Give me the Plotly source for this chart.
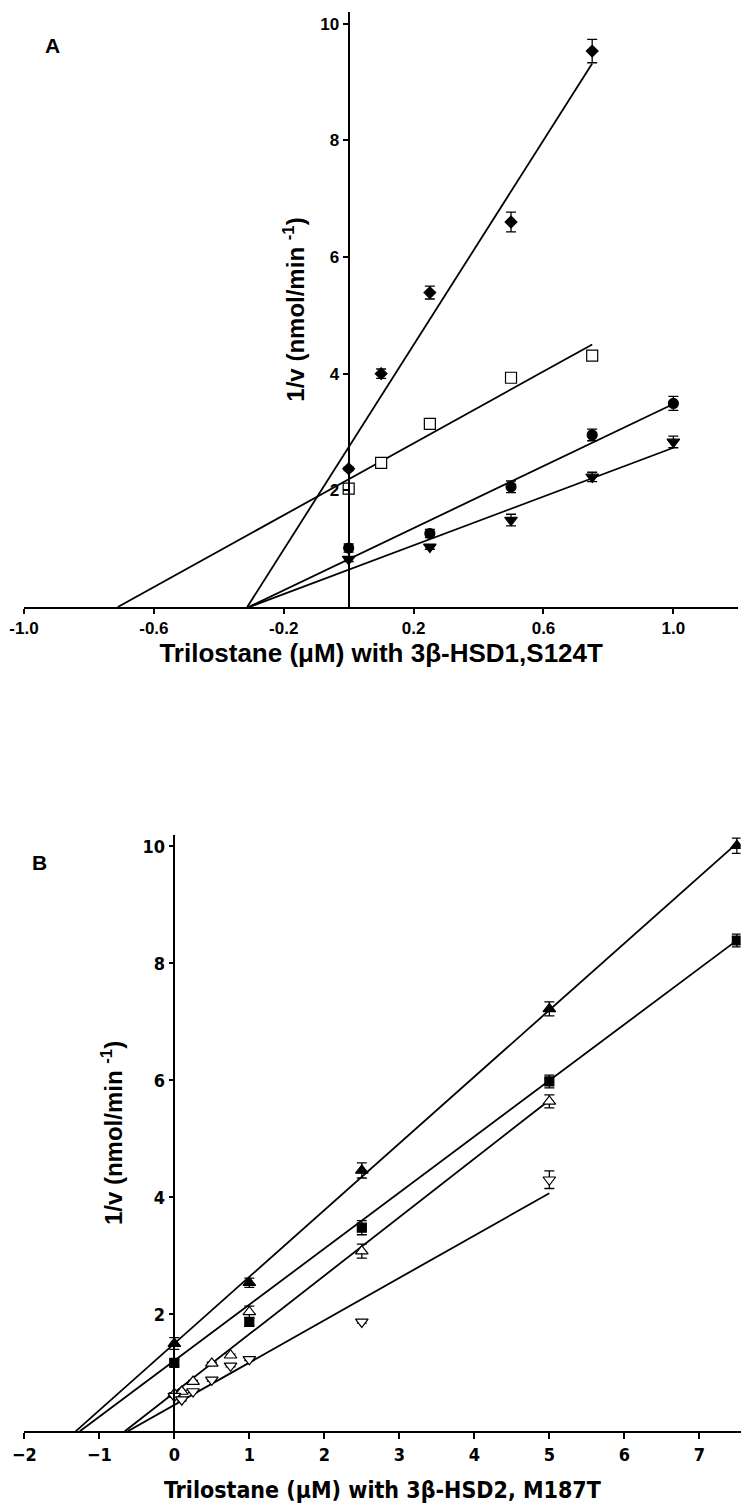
import numpy as np
import plotly.graph_objects as go

# ---------------- Panel A data (3β-HSD1, S124T) ----------------
a_x_diamond = [0, 0.1, 0.25, 0.5, 0.75]
a_y_diamond = [2.37, 4.00, 5.39, 6.60, 9.53]
a_e_diamond = [0.03, 0.08, 0.11, 0.17, 0.20]

a_x_square = [0, 0.1, 0.25, 0.5, 0.75]
a_y_square = [2.03, 2.47, 3.14, 3.93, 4.31]
a_e_square = [0.03, 0.03, 0.03, 0.08, 0.03]

a_x_circle = [0, 0.25, 0.5, 0.75, 1.0]
a_y_circle = [1.01, 1.26, 2.06, 2.95, 3.49]
a_e_circle = [0.07, 0.07, 0.10, 0.10, 0.12]

a_x_tridown = [0, 0.25, 0.5, 0.75, 1.0]
a_y_tridown = [0.82, 1.03, 1.49, 2.23, 2.83]
a_e_tridown = [0.04, 0.04, 0.10, 0.08, 0.10]

# fitted lines (slope, intercept)
a_slopes = [8.77, 3.08, 2.66, 2.09]
a_intercepts = [2.74, 2.19, 0.82, 0.64]

a_xticks = [-1.0, -0.6, -0.2, 0.2, 0.6, 1.0]
a_yticks = [2, 4, 6, 8, 10]

# ---------------- Panel B data (3β-HSD2, M187T) ----------------
b_x_tri = [0, 1, 2.5, 5, 7.5]
b_y_tri = [1.50, 2.54, 4.46, 7.22, 10.01]
b_e_tri = [0.10, 0.08, 0.13, 0.12, 0.13]

b_x_sq = [0, 1, 2.5, 5, 7.5]
b_y_sq = [1.17, 1.87, 3.48, 5.98, 8.39]
b_e_sq = [0.05, 0.07, 0.12, 0.11, 0.11]

b_x_otri = [0, 0.1, 0.25, 0.5, 0.75, 1, 2.5, 5]
b_y_otri = [0.64, 0.68, 0.85, 1.16, 1.30, 2.04, 3.08, 5.64]
b_e_otri = [0.02, 0.02, 0.02, 0.02, 0.02, 0.10, 0.12, 0.11]

b_x_otrid = [0, 0.1, 0.25, 0.5, 0.75, 1, 2.5, 5]
b_y_otrid = [0.60, 0.54, 0.68, 0.88, 1.12, 1.23, 1.87, 4.30]
b_e_otrid = [0.02, 0.02, 0.02, 0.02, 0.02, 0.02, 0.02, 0.15]

b_slopes = [1.14, 0.958, 1.00, 0.724]
b_intercepts = [1.50, 1.207, 0.66, 0.45]

b_xticks = [-2, -1, 0, 1, 2, 3, 4, 5, 6, 7]
b_yticks = [2, 4, 6, 8, 10]

# ---------------- layout geometry (page pixels) ----------------
OX, OY = 8, 8            # default page body margin
W, H = 742, 1500         # figure size that fits the 750x1508 window
A_xr = [-1.0, 1.2]
B_xr = [-2.0, 7.55]
yr = [0, 10.2]


def fx(px):
    return (px - OX) / W


def fy(py):
    return 1 - (py - OY) / H


A_xdom = [fx(24), fx(738.3)]
A_ydom = [fy(607), fy(12)]
B_xdom = [fx(24.3), fx(740.6)]
B_ydom = [fy(1431.3), fy(834.6)]


def zero_pos(dom, rng):
    return dom[0] + (dom[1] - dom[0]) * (0 - rng[0]) / (rng[1] - rng[0])


FONT_A = "Liberation Sans, Arial, sans-serif"
FONT_B = "DejaVu Sans Condensed, Liberation Sans Narrow, Liberation Sans, Arial, sans-serif"

fig = go.Figure()


def add_line(slope, icpt, xmax, xa, ya, width):
    x0 = -icpt / slope
    xs = np.array([x0, xmax])
    fig.add_trace(go.Scatter(x=xs, y=slope * xs + icpt, mode="lines",
                             line=dict(color="black", width=width),
                             xaxis=xa, yaxis=ya, showlegend=False,
                             hoverinfo="skip"))


def add_pts(x, y, e, symbol, size, xa, ya, fill="black"):
    fig.add_trace(go.Scatter(
        x=x, y=y, mode="markers", xaxis=xa, yaxis=ya, showlegend=False,
        marker=dict(symbol=symbol, size=size, color=fill,
                    line=dict(color="black", width=1.2)),
        error_y=dict(type="data", array=e, color="black", thickness=1.3,
                     width=5)))


# Panel A
a_sets = [(a_x_diamond, a_y_diamond, a_e_diamond, "diamond", 9, "black"),
          (a_x_square, a_y_square, a_e_square, "square", 11, "white"),
          (a_x_circle, a_y_circle, a_e_circle, "circle", 10, "black"),
          (a_x_tridown, a_y_tridown, a_e_tridown, "triangle-down", 11, "black")]
for (xs, ys, es, sym, sz, fc), s, b in zip(a_sets, a_slopes, a_intercepts):
    add_line(s, b, max(xs), "x", "y", 1.8)
for xs, ys, es, sym, sz, fc in a_sets:
    add_pts(xs, ys, es, sym, sz, "x", "y", fc)

# Panel B
b_sets = [(b_x_tri, b_y_tri, b_e_tri, "triangle-up", 11, "black"),
          (b_x_sq, b_y_sq, b_e_sq, "square", 9, "black"),
          (b_x_otri, b_y_otri, b_e_otri, "triangle-up", 11, "white"),
          (b_x_otrid, b_y_otrid, b_e_otrid, "triangle-down", 11, "white")]
for (xs, ys, es, sym, sz, fc), s, b in zip(b_sets, b_slopes, b_intercepts):
    add_line(s, b, max(xs), "x2", "y2", 1.8)
for xs, ys, es, sym, sz, fc in b_sets:
    add_pts(xs, ys, es, sym, sz, "x2", "y2", fc)

common_x = dict(showgrid=False, zeroline=False, showline=True, automargin=False,
                linecolor="black", ticks="outside", tickcolor="black",
                tickwidth=2, ticklen=5)
common_y = dict(showgrid=False, zeroline=False, showline=True, automargin=False,
                linecolor="black", ticks="outside", tickcolor="black",
                tickwidth=2, ticklen=5)

fig.update_layout(
    width=W, height=H,
    margin=dict(l=0, r=0, t=0, b=0, pad=0, autoexpand=False),
    paper_bgcolor="white", plot_bgcolor="white",
    showlegend=False,
    xaxis=dict(common_x, domain=A_xdom, range=A_xr, anchor="y",
               linewidth=2,
               tickvals=a_xticks, ticktext=["%.1f" % v for v in a_xticks],
               tickfont=dict(family=FONT_A, size=17, color="black", weight="bold"),
               title=dict(text="Trilostane (μM) with 3β-HSD1,S124T",
                          font=dict(family=FONT_A, size=26, color="black", weight="bold"),
                          standoff=0)),
    yaxis=dict(common_y, domain=A_ydom, range=yr, anchor="free",
               position=zero_pos(A_xdom, A_xr), linewidth=2,
               tickvals=a_yticks,
               tickfont=dict(family=FONT_A, size=17, color="black", weight="bold"),
               title=dict(text="1/v (nmol/min <sup>-1</sup>)",
                          font=dict(family=FONT_A, size=24, color="black", weight="bold"),
                          standoff=8)),
    xaxis2=dict(common_x, domain=B_xdom, range=B_xr, anchor="y2",
                linewidth=1.8, ticklen=6,
                tickvals=b_xticks,
                tickfont=dict(family=FONT_B, size=18, color="black", weight="bold"),
                title=dict(text="Trilostane (μM) with 3β-HSD2, M187T",
                           font=dict(family=FONT_B, size=23, color="black", weight="bold"),
                           standoff=18)),
    yaxis2=dict(common_y, domain=B_ydom, range=yr, anchor="free",
                position=zero_pos(B_xdom, B_xr), linewidth=1.5,
                tickvals=b_yticks,
                tickfont=dict(family=FONT_B, size=18, color="black", weight="bold"),
                title=dict(text="1/v (nmol/min <sup>-1</sup>)",
                           font=dict(family=FONT_A, size=24, color="black", weight="bold"),
                           standoff=12)),
    annotations=[
        dict(text="A", x=fx(52), y=fy(46), xref="paper", yref="paper",
             xanchor="center", yanchor="middle", showarrow=False,
             font=dict(family=FONT_A, size=21, color="black", weight="bold")),
        dict(text="B", x=fx(39), y=fy(863), xref="paper", yref="paper",
             xanchor="center", yanchor="middle", showarrow=False,
             font=dict(family=FONT_A, size=21, color="black", weight="bold")),
    ],
)

fig.write_html("out.html")
